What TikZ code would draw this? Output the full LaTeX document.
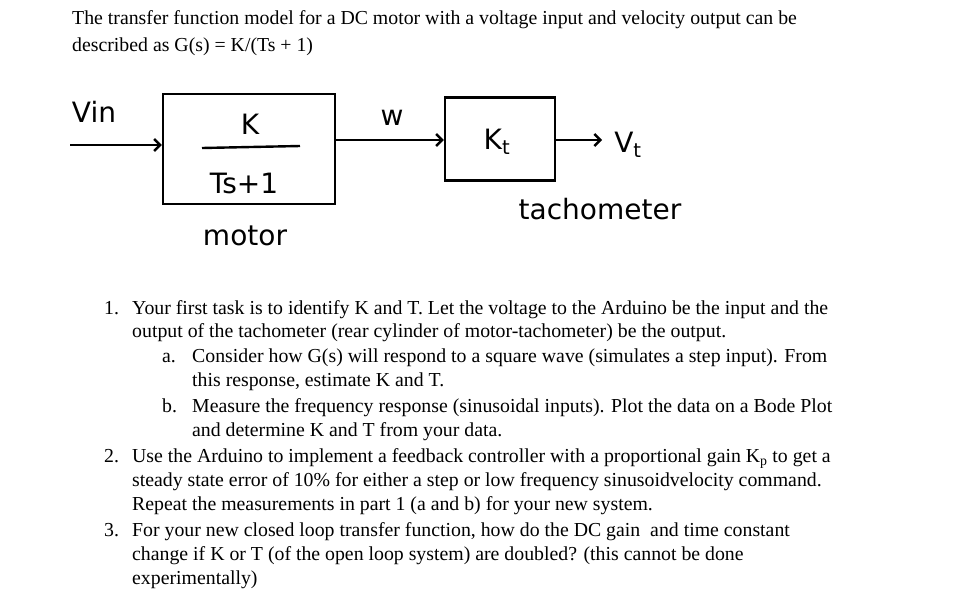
\documentclass[tikz,border=0pt]{standalone}
\usepackage{fontspec}
\usetikzlibrary{arrows.meta}
\setmainfont{Liberation Serif}
\newfontfamily\hand{DejaVu Sans}
\begin{document}
\begin{tikzpicture}[x=1pt,y=-1pt,
  body/.style={anchor=base west,inner sep=0pt,font=\fontsize{19.8}{22}\selectfont},
  hw/.style={font=\hand\fontsize{28}{32}\selectfont,inner sep=0pt},
  blk/.style={draw,line width=2.4pt,inner sep=0pt},
  wire/.style={line width=2.4pt,-{Straight Barb[length=6pt]}}]
\useasboundingbox (0,0) rectangle (954,611);
\node[body] (t1) at (72,24) {The transfer function model for a DC motor with a voltage input and velocity output can be};
\node[body] (t2) at (72,51) {described as G(s) = K/(Ts + 1)};
% diagram
\node[blk,minimum width=172pt,minimum height=110pt] (m) at (249,149) {};
\node[blk,minimum width=110pt,minimum height=83pt] (tk) at (500,139) {};
\coordinate (in) at (70,145);
\coordinate (out) at (602,140);
\draw[wire] (in) -- (in -| m.west);
\draw[wire] (m.east |- 0,140) -- (tk.west |- 0,140);
\draw[wire] (tk.east |- 0,140) -- (out);
\node[hw] (vin) at (94,112) {Vin};
\node[hw] (k) at (250,124) {K};
\draw[line width=2.4pt] (202,148) -- (300,146);
\node[hw] (den) at (244,183) {Ts+1};
\node[hw] (mot) at (245,236) {motor};
\node[hw] (w) at (392,118) {w};
\node[hw] (kt) at (497,142) {K\textsubscript{t}};
\node[hw] (vt) at (628,145) {V\textsubscript{t}};
\node[hw] (tach) at (600,209) {tachometer};
% list
\node[body] (l1) at (104,314) {1.};
\node[body] at (132,314) {Your first task is to identify K and T. Let the voltage to the Arduino be the input and the};
\node[body] at (132,337) {output of the tachometer (rear cylinder of motor-tachometer) be the output.};
\node[body] at (162,362) {a.};
\node[body] at (192,362) {Consider how G(s) will respond to a square wave (simulates a step input). From};
\node[body] at (192,386) {this response, estimate K and T.};
\node[body] at (162,412) {b.};
\node[body] at (192,412) {Measure the frequency response (sinusoidal inputs). Plot the data on a Bode Plot};
\node[body] at (192,436) {and determine K and T from your data.};
\node[body] at (104,462) {2.};
\node[body] at (132,462) {Use the Arduino to implement a feedback controller with a proportional gain K$_\mathrm{p}$ to get a};
\node[body] at (132,486) {steady state error of 10\% for either a step or low frequency sinusoidvelocity command.};
\node[body] at (132,510) {Repeat the measurements in part 1 (a and b) for your new system.};
\node[body] at (104,536) {3.};
\node[body] at (132,536) {For your new closed loop transfer function, how do the DC gain\ \ and time constant};
\node[body] at (132,560) {change if K or T (of the open loop system) are doubled? (this cannot be done};
\node[body] at (132,584) {experimentally)};
\end{tikzpicture}
\end{document}
